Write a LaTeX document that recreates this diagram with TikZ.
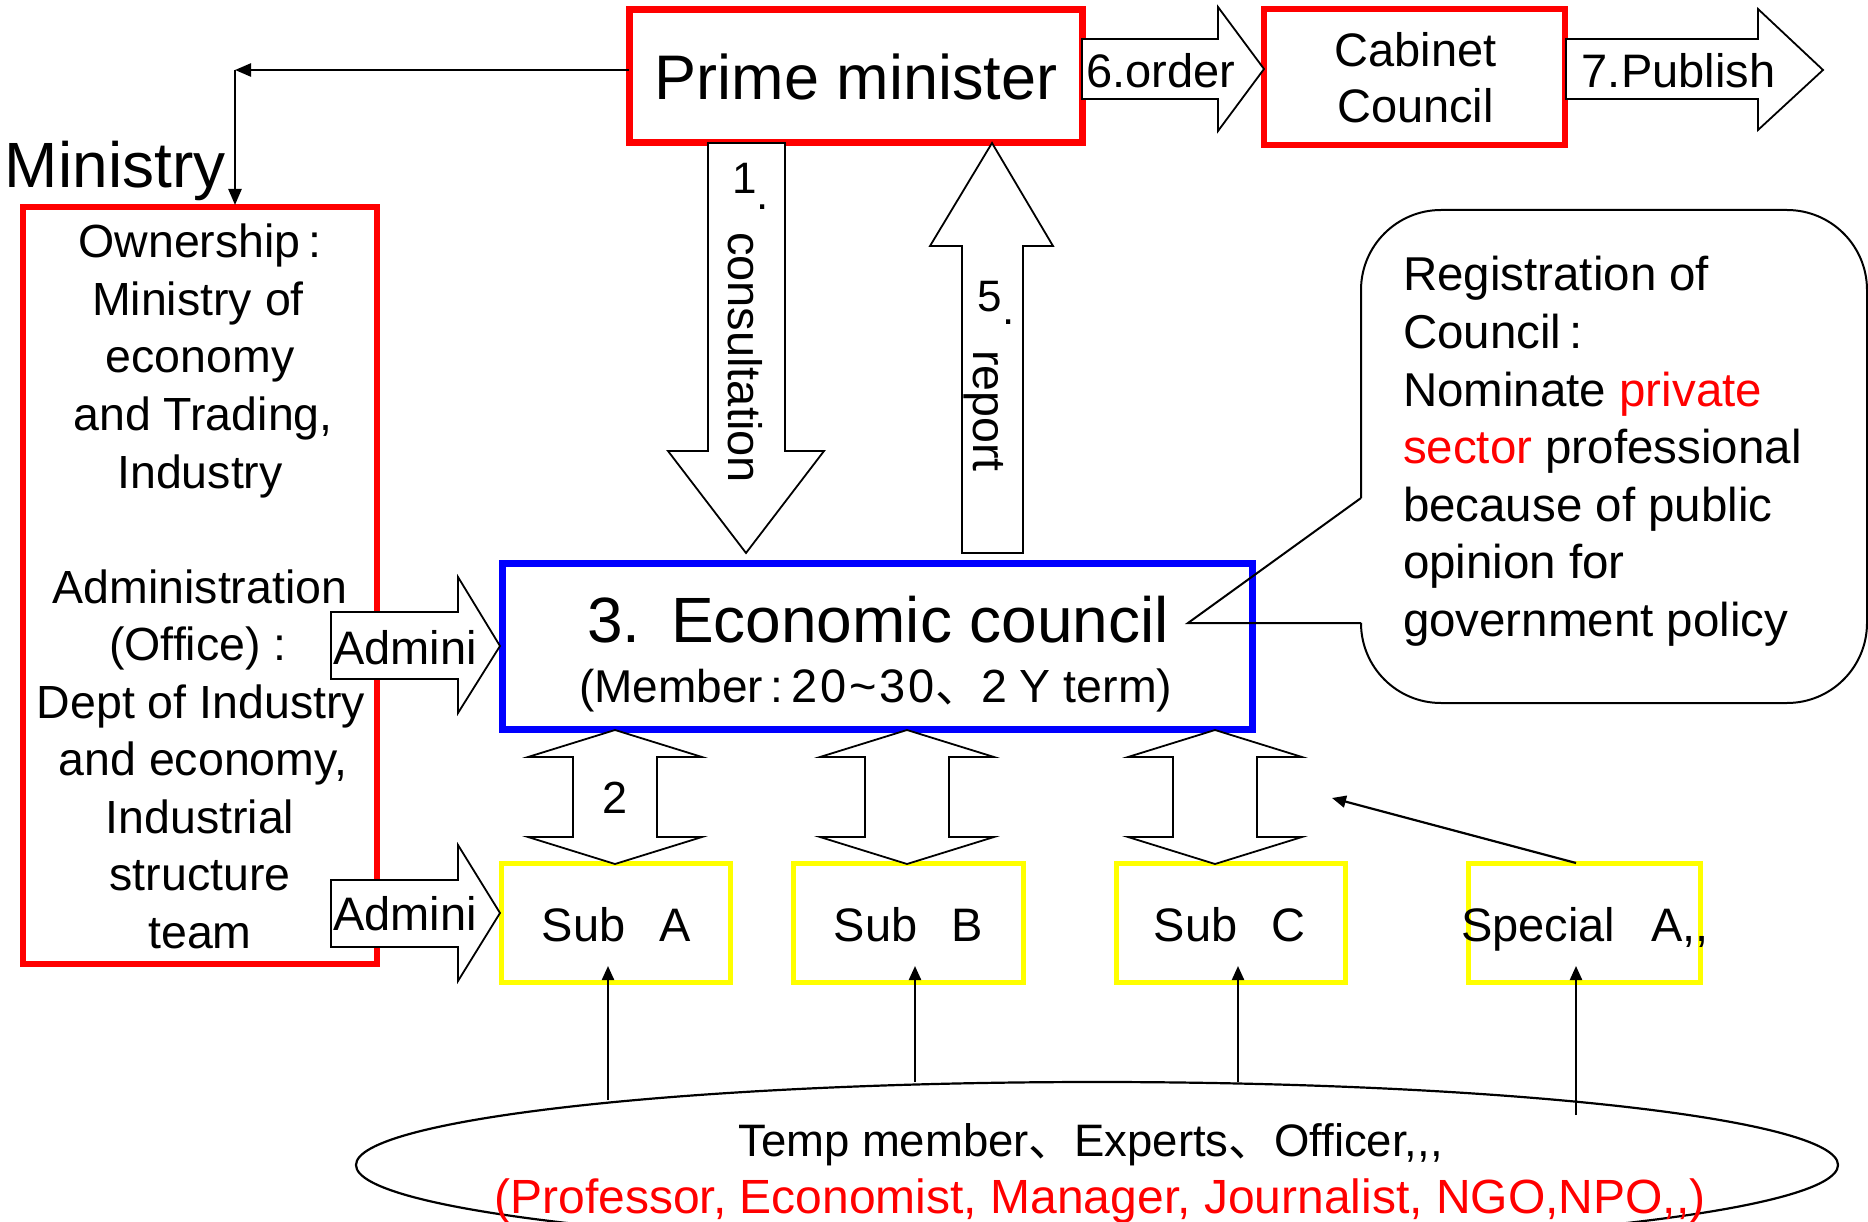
\documentclass[tikz,border=0pt]{standalone}
\usepackage{fontspec}
\setmainfont{Liberation Sans}
\newfontfamily\cjk{Noto Sans CJK JP}
\usetikzlibrary{arrows.meta,shapes.geometric,calc}
\definecolor{pred}{RGB}{255,0,0}
\definecolor{pblue}{RGB}{0,0,255}
\definecolor{pyel}{RGB}{255,255,0}
\newcommand{\fsz}[1]{\fontsize{#1}{#1}\selectfont}
\newcommand{\cm}{,\kern0pt}
\begin{document}
\begin{tikzpicture}[x=1pt,y=-1pt,
  box/.style={draw, rectangle, inner sep=0pt, outer sep=0pt},
  barrow/.style={draw=black, fill=white, line width=1.8pt, line join=miter},
  conn/.style={line width=2.4pt, -{Triangle[length=16pt,width=13pt]}},
  vconn/.style={line width=2.2pt, -{Triangle[length=14pt,width=12pt]}},
  txt/.style={inner sep=0pt, outer sep=0pt},
]
\useasboundingbox (0,0) rectangle (1868,1222);
\clip (0,0) rectangle (1868,1222);
\fill[white] (0,0) rectangle (1868,1222);

% ---------- boxes ----------
\node[box, draw=pred, line width=7pt, minimum width=453pt, minimum height=133pt] (pm) at (855.5,76) {};
\node[box, draw=pred, line width=6pt, minimum width=301pt, minimum height=136pt] (cab) at (1414.5,77) {};
\node[box, draw=pred, line width=5.5pt, minimum width=354pt, minimum height=757pt] (mini) at (200,585.5) {};
\node[box, draw=pblue, line width=7pt, minimum width=750pt, minimum height=166pt] (ec) at (877,646) {};
\node[box, draw=pyel, line width=5pt, minimum width=229pt, minimum height=119pt] (sa) at (615.5,922.5) {};
\node[box, draw=pyel, line width=5pt, minimum width=230pt, minimum height=119pt] (sb) at (908,922.5) {};
\node[box, draw=pyel, line width=5pt, minimum width=229pt, minimum height=119pt] (sc) at (1230.5,922.5) {};
\node[box, draw=pyel, line width=5pt, minimum width=232pt, minimum height=119pt] (sp) at (1584,922.5) {};
\node[ellipse, draw, line width=2.2pt, minimum width=1482pt, minimum height=166pt, inner sep=0pt] (ell) at (1097,1165) {};

% ---------- callout ----------
\draw[line width=2pt, rounded corners=80pt] (1361,498) -- (1361,210) -- (1867,210) -- (1867,703) -- (1361,703) -- (1361,623);
\draw[line width=2pt, line join=miter] (1361,623) -- (1188,623) -- (1361,498);

% ---------- block arrows ----------
\draw[barrow] (708,143) -- (785,143) -- (785,451) -- (824,451) -- (746,553) -- (668,451) -- (708,451) -- cycle;
\draw[barrow] (962,553) -- (1023,553) -- (1023,246) -- (1053,246) -- (992,143) -- (930,246) -- (962,246) -- cycle;
\draw[barrow] (1082,39) -- (1218,39) -- (1218,7) -- (1264,69) -- (1218,131) -- (1218,99) -- (1082,99) -- cycle;
\draw[barrow] (1566,39) -- (1758,39) -- (1758,9) -- (1823,70) -- (1758,130) -- (1758,99) -- (1566,99) -- cycle;
\draw[barrow] (331,612) -- (458,612) -- (458,577) -- (500,646) -- (458,713) -- (458,679) -- (331,679) -- cycle;
\draw[barrow] (331,880) -- (458,880) -- (458,845) -- (500,913) -- (458,981) -- (458,947) -- (331,947) -- cycle;
\foreach \cx in {615,907,1215}
  \draw[barrow] (\cx,730) -- ++(87,27) -- ++(-45,0) -- ++(0,80) -- ++(45,0) -- (\cx,864)
     -- ++(-87,-27) -- ++(45,0) -- ++(0,-80) -- ++(-45,0) -- cycle;

% ---------- connectors ----------
\coordinate (corner) at (235,70);
\draw[conn] (pm.west |- corner) -- (corner);
\draw[conn] (corner) -- ($(corner |- mini.north)+(0,-2)$);
\coordinate (e1) at (608,1100);
\coordinate (e2) at (915,1082);
\coordinate (e3) at (1238,1082);
\coordinate (e4) at (1576,1115);
\draw[vconn] (e1) -- ($(e1 |- sa.south)+(0,-16)$);
\draw[vconn] (e2) -- ($(e2 |- sb.south)+(0,-16)$);
\draw[vconn] (e3) -- ($(e3 |- sc.south)+(0,-16)$);
\draw[vconn] (e4) -- ($(e4 |- sp.south)+(0,-16)$);
\coordinate (dtip) at (1332,798);
\draw[vconn] (e4 |- sp.north) -- (dtip);

% ---------- texts ----------
\node[txt, anchor=base west, font=\fsz{64}] (tmin) at (5,188) {Ministry};
\node[txt, anchor=base, font=\fsz{63}] (tpm) at (856,100) {Prime minister};
\node[txt, anchor=base, font=\fsz{47}] (t6) at (1160.5,88) {6.order};
\node[txt, anchor=base, font=\fsz{47}] (tcab1) at (1415.5,67) {Cabinet};
\node[txt, anchor=base, font=\fsz{47}] (tcab2) at (1415.5,123) {Council};
\node[txt, anchor=base, font=\fsz{47}] (t7) at (1678.5,88) {7.Publish};

\node[txt, anchor=base, font=\fsz{46.5}] (m1) at (200,258) {Ownership\,:};
\node[txt, anchor=base, font=\fsz{46.5}] (m2) at (198,315.5) {Ministry of};
\node[txt, anchor=base, font=\fsz{46.5}] (m3) at (200,373) {economy};
\node[txt, anchor=base, font=\fsz{46.5}] (m4) at (203,430.5) {and Trading,};
\node[txt, anchor=base, font=\fsz{46.5}] (m5) at (200,488) {Industry};
\node[txt, anchor=base, font=\fsz{46.5}] (m6) at (200,603) {Administration};
\node[txt, anchor=base, font=\fsz{46.5}] (m7) at (198,660.5) {(Office) :};
\node[txt, anchor=base, font=\fsz{46.5}] (m8) at (201,718) {Dept of Industry};
\node[txt, anchor=base, font=\fsz{46.5}] (m9) at (203,775.5) {and economy,};
\node[txt, anchor=base, font=\fsz{46.5}] (m10) at (200,833) {Industrial};
\node[txt, anchor=base, font=\fsz{46.5}] (m11) at (200,890.5) {structure};
\node[txt, anchor=base, font=\fsz{46.5}] (m12) at (200,948) {team};

\node[txt, anchor=base west, font=\fsz{47}] (ad1) at (333,664) {Admini};
\node[txt, anchor=base west, font=\fsz{47}] (ad2) at (333,930) {Admini};

\node[txt, anchor=base west, font=\fsz{64}] (tec1) at (587,642) {3.\hspace{0.48em}Economic council};
\node[txt, anchor=base west, font=\fsz{46}] (tec2) at (579,702)
  {(Member\,:\,{\fsz{47}2\hspace{3pt}0\hspace{3pt}\textasciitilde\hspace{3pt}3\hspace{3pt}0}{\cjk 、}{\fsz{46.5}2 Y term)}};

\node[txt, anchor=base, font=\fsz{44}] (n1) at (745,194) {1};
\node[txt, anchor=base, font=\fsz{44}] (d1) at (763,209.5) {.};
\node[txt, anchor=base, rotate=-90, font=\fsz{47}] (tcons) at (728,357.5) {consultation};
\node[txt, anchor=base, font=\fsz{44}] (n5) at (990,312) {5};
\node[txt, anchor=base, font=\fsz{44}] (d5) at (1009,324.5) {.};
\node[txt, anchor=base, rotate=-90, font=\fsz{46.5}] (trep) at (973,411) {report};

\node[txt, anchor=base, font=\fsz{45}] (t2) at (615,813) {2};

\node[txt, anchor=base west, font=\fsz{47}] (tsa) at (541.7,941) {Sub\hspace{0.72em}A};
\node[txt, anchor=base west, font=\fsz{47}] (tsb) at (833.7,941) {Sub\hspace{0.72em}B};
\node[txt, anchor=base west, font=\fsz{47}] (tsc) at (1153.7,941) {Sub\hspace{0.72em}C};
\node[txt, anchor=base west, font=\fsz{47}] (tsp) at (1461,941) {Special\hspace{0.77em}A\cm,};

\node[txt, anchor=base west, font=\fsz{47.5}] (c1) at (1403,291) {Registration of};
\node[txt, anchor=base west, font=\fsz{47.5}] (c2) at (1403,348.5) {Council\,:};
\node[txt, anchor=base west, font=\fsz{47.5}] (c3) at (1403,406) {Nominate \textcolor{pred}{private}};
\node[txt, anchor=base west, font=\fsz{47.5}] (c4) at (1403,463.5) {\textcolor{pred}{sector} professional};
\node[txt, anchor=base west, font=\fsz{47.5}] (c5) at (1403,521) {because of public};
\node[txt, anchor=base west, font=\fsz{47.5}] (c6) at (1403,578.5) {opinion for};
\node[txt, anchor=base west, font=\fsz{47.5}] (c7) at (1403,636) {government policy};

\node[txt, anchor=base, font=\fsz{45.5}] (el1) at (1090.5,1156) {Temp member{\cjk 、}Experts{\cjk 、}Officer\cm\cm,};
\node[txt, anchor=base, font=\fsz{48}, text=pred] (el2) at (1100,1213) {(Professor, Economist, Manager, Journalist, NGO,NPO\cm,)};
\end{tikzpicture}
\end{document}
